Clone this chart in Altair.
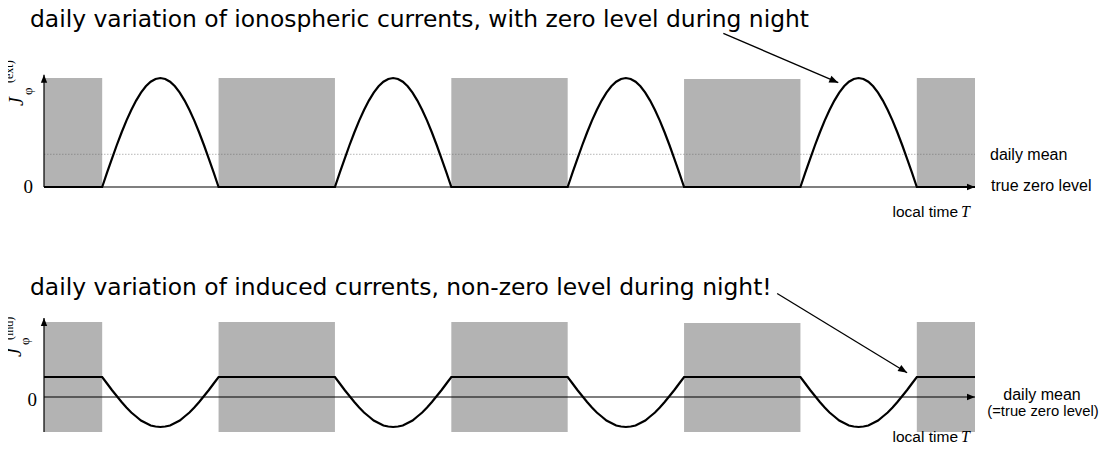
import altair as alt
import pandas as pd

# ---------------- data ----------------
night_start = [0, 18, 42, 66, 90]          # local time in hours (4 days shown)
night_end = [6, 30, 54, 78, 96]
night_top_ext = [1.0, 1.0, 1.0, 0.99, 1.0]
night_bottom_ext = [0, 0, 0, 0, 0]
night_top_ind = [1.5, 1.5, 1.5, 1.48, 1.5]
night_bottom_ind = [-0.7, -0.7, -0.7, -0.7, -0.7]

# half-hourly daytime values, 06:00 .. 18:00
day_shape_ext = [0.0, 0.131, 0.259, 0.383, 0.50, 0.609, 0.707, 0.793, 0.866, 0.924, 0.966, 0.991, 1.0,
                 0.991, 0.966, 0.924, 0.866, 0.793, 0.707, 0.609, 0.50, 0.383, 0.259, 0.131, 0.0]
day_shape_ind = [0.40, 0.27, 0.14, 0.02, -0.10, -0.21, -0.31, -0.39, -0.47, -0.52, -0.57, -0.59, -0.60,
                 -0.59, -0.57, -0.52, -0.47, -0.39, -0.31, -0.21, -0.10, 0.02, 0.14, 0.27, 0.40]
night_level_ext = 0.0
night_level_ind = 0.4
daily_mean_ext = 0.30
n_days = 4

axis_top_ext = 1.03
axis_top_ind = 1.58
axis_bottom_ind = -0.7

arrow_ext = {"t": 70.05, "v": 1.41, "t2": 81.9, "v2": 0.957}
arrow_ind = {"t": 75.6, "v": 2.07, "t2": 89.0, "v2": 0.486}

# ---------------- build tables ----------------
def series(shape, night):
    rows = []
    for i in range(n_days * 48 + 1):
        k = i % 48
        v = shape[k - 12] if 12 <= k <= 36 else night
        rows.append({"t": i / 2, "v": v})
    return pd.DataFrame(rows)

curve_ext = series(day_shape_ext, night_level_ext)
curve_ind = series(day_shape_ind, night_level_ind)
nights_ext = pd.DataFrame({"s": night_start, "e": night_end, "b": night_bottom_ext, "top": night_top_ext})
nights_ind = pd.DataFrame({"s": night_start, "e": night_end, "b": night_bottom_ind, "top": night_top_ind})

SANS = "Liberation Sans"
WIDE = "DejaVu Sans"
SERIF = "Liberation Serif"
GRAY = "#b3b3b3"
HEAD = "M0,0 L-2,-0.8 L-2,0.8 Z"

X = alt.Scale(domain=[0, 96], range=[36, 967], nice=False, zero=False)
YT = alt.Scale(domain=[0, 1], range=[179, 70], nice=False, zero=False)
YB = alt.Scale(domain=[0, 1], range=[389, 339], nice=False, zero=False)

one = pd.DataFrame({"a": [0]})


def xq(f):
    return alt.X(f, type="quantitative", scale=X, axis=None)


def yq(f, sc):
    return alt.Y(f, type="quantitative", scale=sc, axis=None)


def rects(df, sc):
    return alt.Chart(df).mark_rect(color=GRAY).encode(
        x=xq("s"), x2="e", y=yq("b", sc), y2="top")


def rule(t, v, t2, v2, sc, width=1.2, color="black", dash=None, opacity=1.0):
    df = pd.DataFrame({"t": [t], "v": [v], "t2": [t2], "v2": [v2]})
    kw = dict(color=color, strokeWidth=width, opacity=opacity)
    if dash:
        kw["strokeDash"] = dash
    return alt.Chart(df).mark_rule(**kw).encode(x=xq("t"), x2="t2", y=yq("v", sc), y2="v2")


def head(t, v, angle, sc, size=64):
    df = pd.DataFrame({"t": [t], "v": [v]})
    return alt.Chart(df).mark_point(shape=HEAD, filled=True, size=size, angle=angle,
                                    color="black", opacity=1, strokeWidth=0).encode(
        x=xq("t"), y=yq("v", sc))


def curve(df, sc):
    return alt.Chart(df).mark_line(color="black", strokeWidth=2.2).encode(x=xq("t"), y=yq("v", sc))


def label(txt, x, y, size=16, font=SANS, align="left", angle=None, italic=False):
    kw = dict(text=txt, fontSize=size, font=font, align=align, baseline="alphabetic", color="black")
    if angle is not None:
        kw["angle"] = angle
    if italic:
        kw["fontStyle"] = "italic"
    return alt.Chart(one).mark_text(**kw).encode(x=alt.value(x), y=alt.value(y))


layers = [
    # ---- top panel: ionospheric currents ----
    rects(nights_ext, YT),
    rule(0, daily_mean_ext, 96, daily_mean_ext, YT, width=0.8, color="#666", dash=[1.5, 1.5], opacity=0.6),
    rule(0, 0, 96, 0, YT),
    rule(0, 0, 0, axis_top_ext, YT),
    curve(curve_ext, YT),
    head(96, 0, 0, YT),
    head(0, axis_top_ext, 270, YT),
    rule(arrow_ext["t"], arrow_ext["v"], arrow_ext["t2"], arrow_ext["v2"], YT, width=1.3),
    head(arrow_ext["t2"], arrow_ext["v2"], 23.5, YT, size=81),
    # ---- bottom panel: induced currents ----
    rects(nights_ind, YB),
    rule(0, 0, 96, 0, YB),
    rule(0, axis_bottom_ind, 0, axis_top_ind, YB),
    curve(curve_ind, YB),
    head(96, 0, 0, YB),
    head(0, axis_top_ind, 270, YB),
    rule(arrow_ind["t"], arrow_ind["v"], arrow_ind["t2"], arrow_ind["v2"], YB, width=1.3),
    head(arrow_ind["t2"], arrow_ind["v2"], 31.6, YB, size=81),
    # ---- texts ----
    label("daily variation of ionospheric currents, with zero level during night", 22, 19, size=23.4, font=WIDE),
    label("daily variation of induced currents, non-zero level during night!", 22, 287, size=23.4, font=WIDE),
    label("daily mean", 982, 152),
    label("true zero level", 983, 183),
    label("local time", 950, 209, size=15.5, align="right"),
    label("T", 953, 209, size=16, font=SERIF, italic=True),
    label("daily mean", 1034, 392, size=16, align="center"),
    label("(=true zero level)", 1035, 408, size=14.8, align="center"),
    label("local time", 950, 434, size=15.5, align="right"),
    label("T", 953, 434, size=16, font=SERIF, italic=True),
    label("0", 25, 185, size=19, font=SERIF, align="right"),
    label("0", 29, 398, size=19, font=SERIF, align="right"),
    label("J", 15, 98, size=20, font=SERIF, italic=True, angle=270),
    label("\u03c6", 24, 87, size=13, font=SERIF, angle=270),
    label("(ext)", 5, 75, size=12, font=SERIF, angle=270),
    label("J", 13, 349, size=20, font=SERIF, italic=True, angle=270),
    label("\u03c6", 21, 337, size=13, font=SERIF, angle=270),
    label("(ind)", 5, 332, size=12, font=SERIF, angle=270),
]

chart = alt.layer(*layers).resolve_scale(y="independent").properties(
    width=1091, height=436, padding=0, autosize=alt.AutoSizeParams(type="none")
).configure_view(stroke=None)

chart.save("out.html", embed_options={"renderer": "svg", "actions": False})
